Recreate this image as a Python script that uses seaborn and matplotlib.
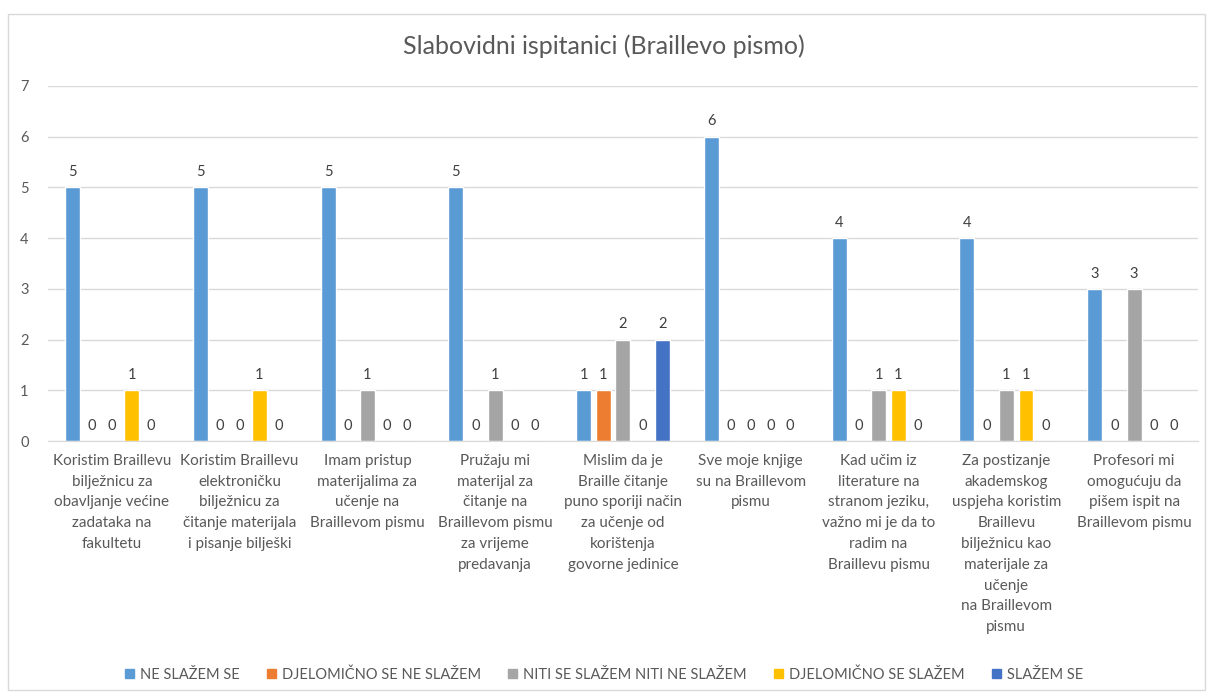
import seaborn as sns
import matplotlib.pyplot as plt
import matplotlib.patches as mpatches
import pandas as pd

# Categories (statements) and answer levels
categories = [
    "Koristim Braillevu\nbilježnicu za\nobavljanje većine\nzadataka na\nfakultetu",
    "Koristim Braillevu\nelektroničku\nbilježnicu za\nčitanje materijala\ni pisanje bilješki",
    "Imam pristup\nmaterijalima za\nučenje na\nBraillevom pismu",
    "Pružaju mi\nmaterijal za\nčitanje na\nBraillevom pismu\nza vrijeme\npredavanja",
    "Mislim da je\nBraille čitanje\npuno sporiji način\nza učenje od\nkorištenja\ngovorne jedinice",
    "Sve moje knjige\nsu na Braillevom\npismu",
    "Kad učim iz\nliterature na\nstranom jeziku,\nvažno mi je da to\nradim na\nBraillevu pismu",
    "Za postizanje\nakademskog\nuspjeha koristim\nBraillevu\nbilježnicu kao\nmaterijale za\nučenje\nna Braillevom\npismu",
    "Profesori mi\nomogućuju da\npišem ispit na\nBraillevom pismu",
]
series_names = ["NE SLAŽEM SE", "DJELOMIČNO SE NE SLAŽEM",
                "NITI SE SLAŽEM NITI NE SLAŽEM", "DJELOMIČNO SE SLAŽEM", "SLAŽEM SE"]
ne_slazem = [5, 5, 5, 5, 1, 6, 4, 4, 3]
djel_ne_slazem = [0, 0, 0, 0, 1, 0, 0, 0, 0]
niti_niti = [0, 0, 1, 1, 2, 0, 1, 1, 3]
djel_slazem = [1, 1, 0, 0, 0, 0, 1, 1, 0]
slazem = [0, 0, 0, 0, 2, 0, 0, 0, 0]
colors = ["#5B9BD5", "#ED7D31", "#A5A5A5", "#FFC000", "#4472C4"]

rows = []
for name, vals in zip(series_names,
                      [ne_slazem, djel_ne_slazem, niti_niti, djel_slazem, slazem]):
    for cat, v in zip(categories, vals):
        rows.append({"kategorija": cat, "odgovor": name, "broj": v})
df = pd.DataFrame(rows)

sns.set_style("white")
plt.rcParams['font.family'] = ['Lato', 'DejaVu Sans']

fig = plt.figure(figsize=(12.08, 6.97), dpi=100)
ax = fig.add_axes([0.0397, 0.367, 0.952, 0.510])

sns.barplot(data=df, x="kategorija", y="broj", hue="odgovor",
            hue_order=series_names, palette=colors, width=0.77, gap=0.24,
            saturation=1, legend=False, ax=ax)

for cont in ax.containers:
    ax.bar_label(cont, fmt="%d", padding=6, fontsize=10.5, color="#404040")

ax.set_ylim(0, 7)
ax.set_xlim(-0.5, 8.5)
ax.set_yticks(range(0, 8))
ax.yaxis.grid(True, color="#D9D9D9", linewidth=1)
ax.set_axisbelow(True)
for s in ["top", "right", "left"]:
    ax.spines[s].set_visible(False)
ax.spines["bottom"].set_color("#D9D9D9")
ax.tick_params(axis="both", length=0, colors="#595959", labelsize=10.5)
ax.tick_params(axis="x", pad=9, labelsize=11)
for lbl in ax.get_xticklabels():
    lbl.set_linespacing(1.62)
ax.tick_params(axis="y", pad=14)
ax.set_xlabel("")
ax.set_ylabel("")

fig.text(0.5, 0.933, "Slabovidni ispitanici (Braillevo pismo)",
         ha="center", va="center", fontsize=18, color="#595959")

handles = [mpatches.Patch(color=c, label=n) for c, n in zip(colors, series_names)]
fig.legend(handles=handles, loc="center", bbox_to_anchor=(0.5, 0.032), ncol=5,
           frameon=False, fontsize=10.5, handlelength=0.6, handleheight=0.6,
           handletextpad=0.4, columnspacing=1.9, labelcolor="#595959")

# outer chart border
fig.patches.append(mpatches.Rectangle((8 / 1208, 7 / 697), 1197 / 1208, 676 / 697,
                                      transform=fig.transFigure, fill=False,
                                      edgecolor="#D9D9D9", linewidth=1))

fig.savefig("out.png", dpi=100)
